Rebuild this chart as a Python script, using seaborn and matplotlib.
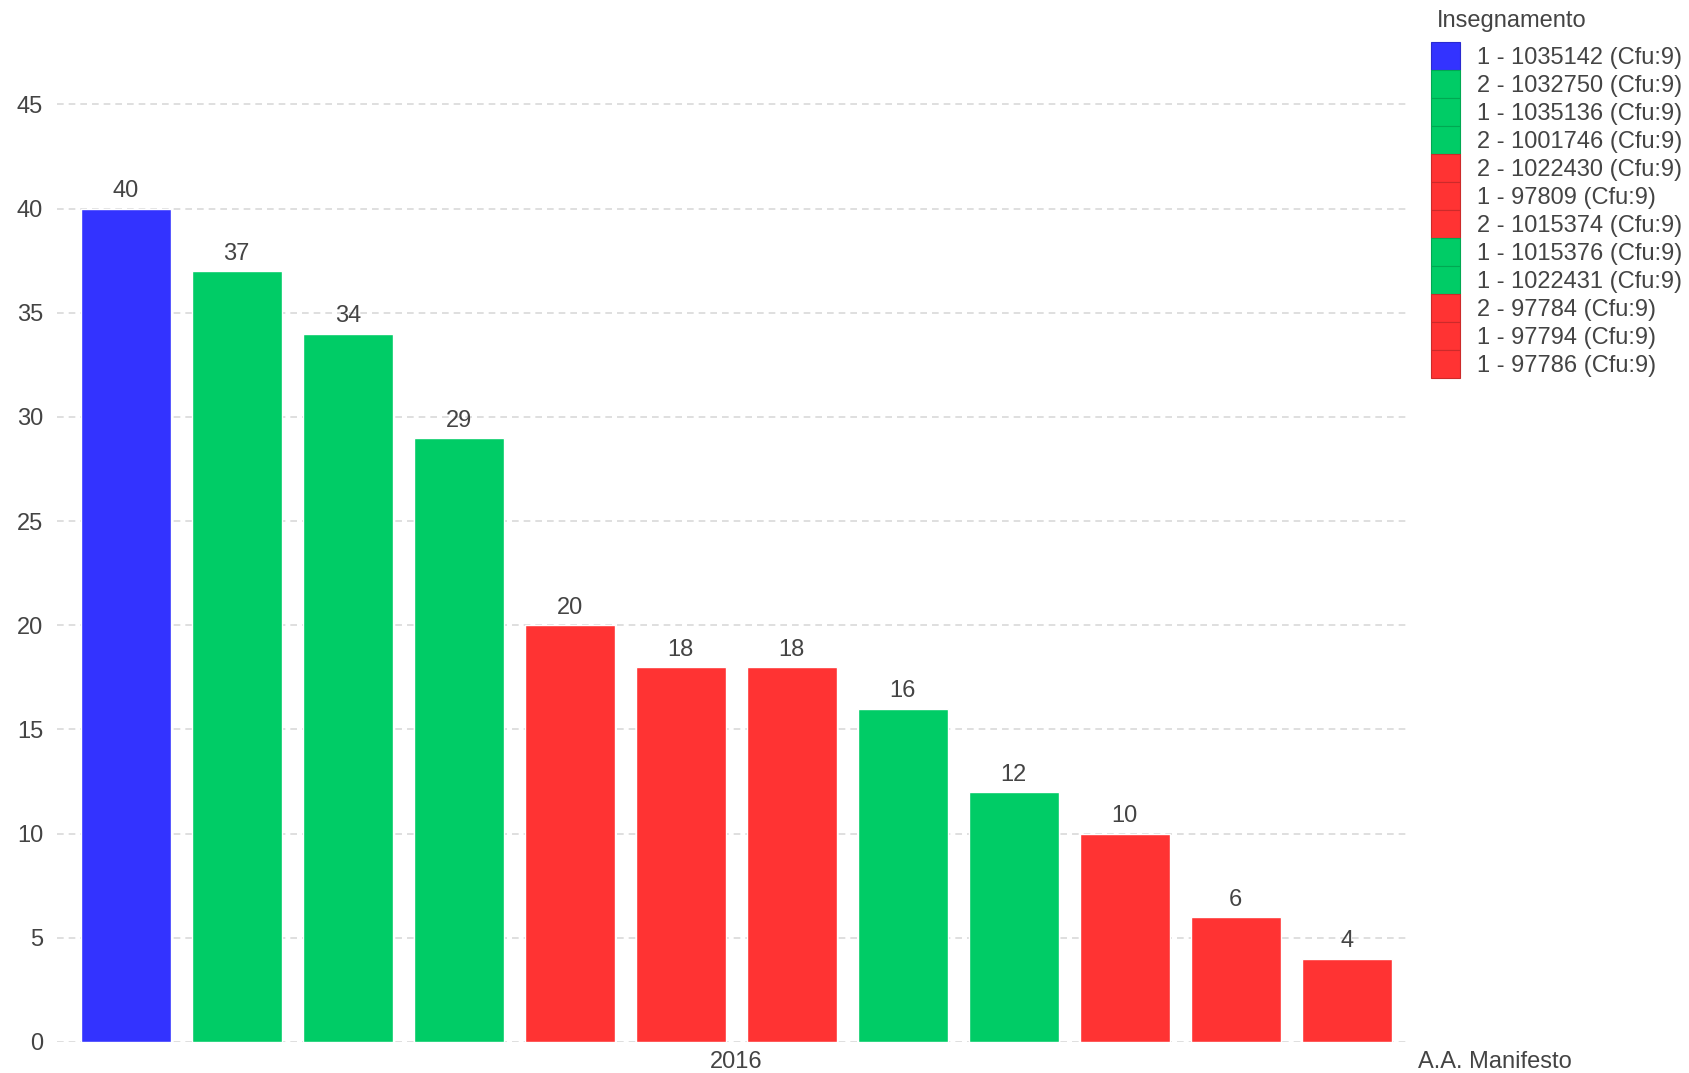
import matplotlib
matplotlib.use("Agg")
import matplotlib.pyplot as plt
import matplotlib.patches as mpatches
import seaborn as sns
import pandas as pd

# Data
insegnamenti = ["1 - 1035142 (Cfu:9)", "2 - 1032750 (Cfu:9)", "1 - 1035136 (Cfu:9)",
                "2 - 1001746 (Cfu:9)", "2 - 1022430 (Cfu:9)", "1 - 97809 (Cfu:9)",
                "2 - 1015374 (Cfu:9)", "1 - 1015376 (Cfu:9)", "1 - 1022431 (Cfu:9)",
                "2 - 97784 (Cfu:9)", "1 - 97794 (Cfu:9)", "1 - 97786 (Cfu:9)"]
valori = [40, 37, 34, 29, 20, 18, 18, 16, 12, 10, 6, 4]
colori = ["#3333FF", "#00CC66", "#00CC66", "#00CC66", "#FF3333", "#FF3333",
          "#FF3333", "#00CC66", "#00CC66", "#FF3333", "#FF3333", "#FF3333"]
anno = "2016"
y_ticks = [0, 5, 10, 15, 20, 25, 30, 35, 40, 45]

df = pd.DataFrame({"Insegnamento": insegnamenti, "Valore": valori})
palette = dict(zip(insegnamenti, colori))

sns.set_theme(style="white")
plt.rcParams["font.family"] = ["Liberation Sans", "DejaVu Sans"]
text_col = "#444444"
fs = 17

fig = plt.figure(figsize=(16.89, 10.73), dpi=100)
ax = fig.add_axes([0.0337, 0.0289, 0.8011, 0.932])

sns.barplot(data=df, x="Insegnamento", y="Valore", hue="Insegnamento",
            palette=palette, dodge=False, width=0.81, saturation=1,
            legend=False, ax=ax)

for i, v in enumerate(valori):
    ax.text(i, v + 0.3, str(v), ha="center", va="bottom", fontsize=fs, color=text_col)

ax.set_xlim(-0.62, 11.57)
ax.set_ylim(0, 48)
ax.set_yticks(y_ticks)
ax.tick_params(axis="y", labelsize=fs, labelcolor=text_col, length=0, pad=10)
ax.set_xticks([])
ax.set_xlabel("")
ax.set_ylabel("")
for s in ax.spines.values():
    s.set_visible(False)
for t in y_ticks:
    ax.axhline(t, color="#d9d9d9", lw=1.2, ls=(0, (4, 3)), zorder=0)

fig.text(736 / 1689, 1 - 1062 / 1073, anno,
         ha="center", va="center", fontsize=fs, color=text_col)
fig.text(1418 / 1689, 1 - 1062 / 1073, "A.A. Manifesto",
         ha="left", va="center", fontsize=fs, color=text_col)

bordi = {"#FF3333": "#cc2a2a", "#00CC66": "#00a852", "#3333FF": "#2a2ad0"}
handles = [mpatches.Patch(facecolor=c, edgecolor=bordi[c], lw=0.8) for c in colori]
leg = fig.legend(handles, insegnamenti, title="Insegnamento",
                 loc="upper left", bbox_to_anchor=(1431 / 1689, 1 - 10 / 1073),
                 frameon=False, fontsize=fs, title_fontsize=fs,
                 handlelength=1.23, handleheight=1.45, labelspacing=0.0,
                 handletextpad=0.72, borderpad=0, borderaxespad=0)
leg._legend_box.align = "left"
leg._legend_box.sep = 7
leg.get_title().set_color(text_col)
leg.get_title().set_position((6, 0))
for t in leg.get_texts():
    t.set_color(text_col)

fig.savefig("out.png", dpi=100)
